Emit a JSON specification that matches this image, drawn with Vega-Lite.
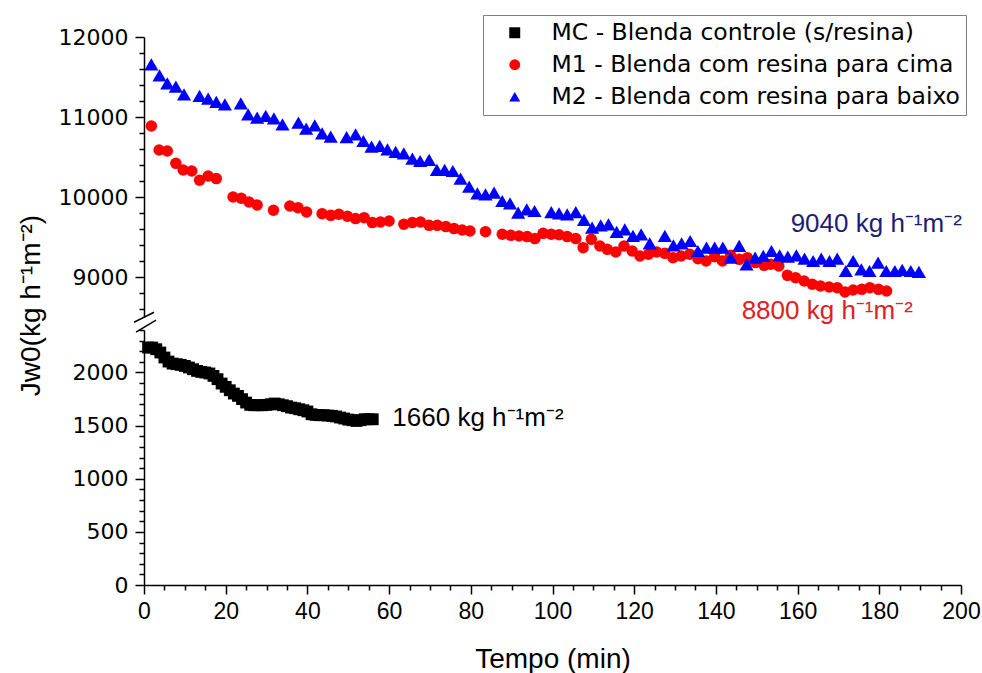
{
  "$schema": "https://vega.github.io/schema/vega-lite/v6.json",
  "background": "white",
  "padding": {"left": 17, "top": 14, "right": 0, "bottom": 0},
  "bounds": "flush",
  "spacing": 13,
  "config": {
    "view": {"stroke": null},
    "font": "DejaVu Sans",
    "axis": {
      "grid": false,
      "domainColor": "#000000",
      "domainWidth": 1.5,
      "tickColor": "#000000",
      "tickWidth": 1.5,
      "labelColor": "#000000",
      "titleColor": "#000000",
      "labelFont": "DejaVu Sans",
      "labelFontSize": 22,
      "labelFlush": false,
      "labelOverlap": false,
      "titleFontWeight": "normal",
      "format": "d"
    },
    "legend": {
      "strokeColor": "#808080",
      "fillColor": "#ffffff",
      "padding": 6,
      "labelFont": "DejaVu Sans",
      "labelFontSize": 23.5,
      "labelColor": "#000000",
      "labelLimit": 0,
      "symbolSize": 120,
      "symbolStrokeWidth": 0,
      "rowPadding": 7
    }
  },
  "resolve": {
    "scale": {"color": "shared", "shape": "shared"},
    "legend": {"color": "shared", "shape": "shared"}
  },
  "datasets": {
    "pts": [
      {"s": "MC", "t": 1, "v": 2235}, {"s": "MC", "t": 2, "v": 2235}, {"s": "MC", "t": 3, "v": 2219}, {"s": "MC", "t": 4, "v": 2188},
      {"s": "MC", "t": 5, "v": 2141}, {"s": "MC", "t": 6, "v": 2103}, {"s": "MC", "t": 7, "v": 2084}, {"s": "MC", "t": 8, "v": 2078},
      {"s": "MC", "t": 9, "v": 2072}, {"s": "MC", "t": 10, "v": 2062}, {"s": "MC", "t": 11, "v": 2047}, {"s": "MC", "t": 12, "v": 2031},
      {"s": "MC", "t": 13, "v": 2015}, {"s": "MC", "t": 14, "v": 2006}, {"s": "MC", "t": 15, "v": 2000}, {"s": "MC", "t": 16, "v": 1991},
      {"s": "MC", "t": 17, "v": 1968}, {"s": "MC", "t": 18, "v": 1937}, {"s": "MC", "t": 19, "v": 1896}, {"s": "MC", "t": 20, "v": 1865},
      {"s": "MC", "t": 21, "v": 1833}, {"s": "MC", "t": 22, "v": 1802}, {"s": "MC", "t": 23, "v": 1780}, {"s": "MC", "t": 24, "v": 1749},
      {"s": "MC", "t": 25, "v": 1717}, {"s": "MC", "t": 26, "v": 1695}, {"s": "MC", "t": 27, "v": 1692}, {"s": "MC", "t": 28, "v": 1692},
      {"s": "MC", "t": 29, "v": 1692}, {"s": "MC", "t": 30, "v": 1695}, {"s": "MC", "t": 31, "v": 1701}, {"s": "MC", "t": 32, "v": 1708},
      {"s": "MC", "t": 33, "v": 1701}, {"s": "MC", "t": 34, "v": 1692}, {"s": "MC", "t": 35, "v": 1683}, {"s": "MC", "t": 36, "v": 1670},
      {"s": "MC", "t": 37, "v": 1664}, {"s": "MC", "t": 38, "v": 1654}, {"s": "MC", "t": 39, "v": 1645}, {"s": "MC", "t": 40, "v": 1633},
      {"s": "MC", "t": 41, "v": 1607}, {"s": "MC", "t": 42, "v": 1601}, {"s": "MC", "t": 43, "v": 1598}, {"s": "MC", "t": 44, "v": 1598},
      {"s": "MC", "t": 45, "v": 1595}, {"s": "MC", "t": 46, "v": 1592}, {"s": "MC", "t": 47, "v": 1586}, {"s": "MC", "t": 48, "v": 1576},
      {"s": "MC", "t": 49, "v": 1567}, {"s": "MC", "t": 50, "v": 1557}, {"s": "MC", "t": 51, "v": 1551}, {"s": "MC", "t": 52, "v": 1544},
      {"s": "MC", "t": 53, "v": 1551}, {"s": "MC", "t": 54, "v": 1560}, {"s": "MC", "t": 55, "v": 1560}, {"s": "MC", "t": 56, "v": 1560},

      {"s": "M1", "t": 1.8, "v": 10888}, {"s": "M1", "t": 3.7, "v": 10588}, {"s": "M1", "t": 5.7, "v": 10575}, {"s": "M1", "t": 7.8, "v": 10421},
      {"s": "M1", "t": 9.6, "v": 10338}, {"s": "M1", "t": 11.7, "v": 10325}, {"s": "M1", "t": 13.6, "v": 10209}, {"s": "M1", "t": 15.7, "v": 10263},
      {"s": "M1", "t": 17.7, "v": 10230}, {"s": "M1", "t": 21.8, "v": 10000}, {"s": "M1", "t": 23.8, "v": 9984}, {"s": "M1", "t": 25.7, "v": 9938},
      {"s": "M1", "t": 27.7, "v": 9900}, {"s": "M1", "t": 31.7, "v": 9834}, {"s": "M1", "t": 35.7, "v": 9888}, {"s": "M1", "t": 37.7, "v": 9867},
      {"s": "M1", "t": 39.8, "v": 9813}, {"s": "M1", "t": 43.6, "v": 9792}, {"s": "M1", "t": 45.7, "v": 9771}, {"s": "M1", "t": 47.7, "v": 9784},
      {"s": "M1", "t": 49.8, "v": 9760}, {"s": "M1", "t": 51.8, "v": 9730}, {"s": "M1", "t": 53.9, "v": 9742}, {"s": "M1", "t": 55.9, "v": 9680},
      {"s": "M1", "t": 57.9, "v": 9688}, {"s": "M1", "t": 60, "v": 9700}, {"s": "M1", "t": 63.6, "v": 9659}, {"s": "M1", "t": 65.7, "v": 9680},
      {"s": "M1", "t": 67.7, "v": 9688}, {"s": "M1", "t": 69.8, "v": 9646}, {"s": "M1", "t": 71.8, "v": 9646}, {"s": "M1", "t": 73.9, "v": 9630},
      {"s": "M1", "t": 75.9, "v": 9605}, {"s": "M1", "t": 77.9, "v": 9588}, {"s": "M1", "t": 79.8, "v": 9575}, {"s": "M1", "t": 83.6, "v": 9567},
      {"s": "M1", "t": 87.7, "v": 9534}, {"s": "M1", "t": 89.8, "v": 9521}, {"s": "M1", "t": 91.8, "v": 9513}, {"s": "M1", "t": 93.8, "v": 9505},
      {"s": "M1", "t": 95.7, "v": 9480}, {"s": "M1", "t": 97.7, "v": 9546}, {"s": "M1", "t": 99.7, "v": 9534}, {"s": "M1", "t": 101.6, "v": 9528},
      {"s": "M1", "t": 103.6, "v": 9505}, {"s": "M1", "t": 105.7, "v": 9480}, {"s": "M1", "t": 107.5, "v": 9367}, {"s": "M1", "t": 109.5, "v": 9471},
      {"s": "M1", "t": 111.6, "v": 9388}, {"s": "M1", "t": 113.4, "v": 9346}, {"s": "M1", "t": 115.5, "v": 9313}, {"s": "M1", "t": 117.5, "v": 9388},
      {"s": "M1", "t": 119.5, "v": 9325}, {"s": "M1", "t": 121.4, "v": 9263}, {"s": "M1", "t": 123.5, "v": 9284}, {"s": "M1", "t": 125.5, "v": 9313},
      {"s": "M1", "t": 127.5, "v": 9296}, {"s": "M1", "t": 129.5, "v": 9242}, {"s": "M1", "t": 131.5, "v": 9263}, {"s": "M1", "t": 133.6, "v": 9284},
      {"s": "M1", "t": 135.6, "v": 9229}, {"s": "M1", "t": 137.6, "v": 9200}, {"s": "M1", "t": 139.7, "v": 9254}, {"s": "M1", "t": 141.6, "v": 9200},
      {"s": "M1", "t": 143.6, "v": 9271}, {"s": "M1", "t": 145.7, "v": 9221}, {"s": "M1", "t": 147.7, "v": 9242}, {"s": "M1", "t": 149.7, "v": 9180},
      {"s": "M1", "t": 151.8, "v": 9146}, {"s": "M1", "t": 153.4, "v": 9159}, {"s": "M1", "t": 155.4, "v": 9138}, {"s": "M1", "t": 157.5, "v": 9021},
      {"s": "M1", "t": 159.5, "v": 8992}, {"s": "M1", "t": 161.6, "v": 8950}, {"s": "M1", "t": 163.6, "v": 8909}, {"s": "M1", "t": 165.6, "v": 8888},
      {"s": "M1", "t": 167.7, "v": 8875}, {"s": "M1", "t": 169.7, "v": 8867}, {"s": "M1", "t": 171.6, "v": 8813}, {"s": "M1", "t": 173.6, "v": 8838},
      {"s": "M1", "t": 175.7, "v": 8846}, {"s": "M1", "t": 177.7, "v": 8867}, {"s": "M1", "t": 179.8, "v": 8846}, {"s": "M1", "t": 181.8, "v": 8825},

      {"s": "M2", "t": 1.8, "v": 11659}, {"s": "M2", "t": 3.8, "v": 11521}, {"s": "M2", "t": 5.7, "v": 11421}, {"s": "M2", "t": 7.8, "v": 11380},
      {"s": "M2", "t": 9.8, "v": 11284}, {"s": "M2", "t": 13.6, "v": 11263}, {"s": "M2", "t": 15.7, "v": 11230}, {"s": "M2", "t": 17.7, "v": 11188},
      {"s": "M2", "t": 19.8, "v": 11159}, {"s": "M2", "t": 23.7, "v": 11171}, {"s": "M2", "t": 25.5, "v": 11034}, {"s": "M2", "t": 27.7, "v": 10992},
      {"s": "M2", "t": 29.8, "v": 11013}, {"s": "M2", "t": 31.8, "v": 10984}, {"s": "M2", "t": 33.9, "v": 10909}, {"s": "M2", "t": 37.8, "v": 10930},
      {"s": "M2", "t": 39.7, "v": 10855}, {"s": "M2", "t": 41.8, "v": 10896}, {"s": "M2", "t": 43.6, "v": 10796}, {"s": "M2", "t": 45.7, "v": 10755},
      {"s": "M2", "t": 49.6, "v": 10748}, {"s": "M2", "t": 51.8, "v": 10784}, {"s": "M2", "t": 53.7, "v": 10700}, {"s": "M2", "t": 55.7, "v": 10630},
      {"s": "M2", "t": 57.7, "v": 10638}, {"s": "M2", "t": 59.6, "v": 10596}, {"s": "M2", "t": 61.6, "v": 10563}, {"s": "M2", "t": 63.6, "v": 10546},
      {"s": "M2", "t": 65.7, "v": 10480}, {"s": "M2", "t": 67.6, "v": 10450}, {"s": "M2", "t": 69.8, "v": 10463}, {"s": "M2", "t": 71.7, "v": 10338},
      {"s": "M2", "t": 73.6, "v": 10338}, {"s": "M2", "t": 75.6, "v": 10325}, {"s": "M2", "t": 77.5, "v": 10230}, {"s": "M2", "t": 79.6, "v": 10130},
      {"s": "M2", "t": 81.6, "v": 10046}, {"s": "M2", "t": 83.6, "v": 10034}, {"s": "M2", "t": 85.7, "v": 10055}, {"s": "M2", "t": 87.7, "v": 9950},
      {"s": "M2", "t": 89.6, "v": 9921}, {"s": "M2", "t": 91.6, "v": 9805}, {"s": "M2", "t": 93.7, "v": 9846}, {"s": "M2", "t": 95.6, "v": 9825},
      {"s": "M2", "t": 99.7, "v": 9812}, {"s": "M2", "t": 101.6, "v": 9795}, {"s": "M2", "t": 103.6, "v": 9784}, {"s": "M2", "t": 105.7, "v": 9812},
      {"s": "M2", "t": 107.7, "v": 9713}, {"s": "M2", "t": 109.7, "v": 9617}, {"s": "M2", "t": 111.8, "v": 9646}, {"s": "M2", "t": 113.7, "v": 9659},
      {"s": "M2", "t": 115.7, "v": 9563}, {"s": "M2", "t": 117.7, "v": 9596}, {"s": "M2", "t": 119.7, "v": 9513}, {"s": "M2", "t": 121.7, "v": 9534},
      {"s": "M2", "t": 123.8, "v": 9421}, {"s": "M2", "t": 127.5, "v": 9513}, {"s": "M2", "t": 129.6, "v": 9396}, {"s": "M2", "t": 131.6, "v": 9421},
      {"s": "M2", "t": 133.7, "v": 9450}, {"s": "M2", "t": 135.6, "v": 9325}, {"s": "M2", "t": 137.7, "v": 9367}, {"s": "M2", "t": 139.7, "v": 9367},
      {"s": "M2", "t": 141.7, "v": 9367}, {"s": "M2", "t": 143.6, "v": 9242}, {"s": "M2", "t": 145.7, "v": 9388}, {"s": "M2", "t": 147.5, "v": 9159},
      {"s": "M2", "t": 149.6, "v": 9242}, {"s": "M2", "t": 151.6, "v": 9263}, {"s": "M2", "t": 153.6, "v": 9325}, {"s": "M2", "t": 155.6, "v": 9271},
      {"s": "M2", "t": 157.6, "v": 9254}, {"s": "M2", "t": 159.7, "v": 9271}, {"s": "M2", "t": 161.7, "v": 9229}, {"s": "M2", "t": 163.8, "v": 9200},
      {"s": "M2", "t": 165.8, "v": 9229}, {"s": "M2", "t": 167.8, "v": 9200}, {"s": "M2", "t": 169.7, "v": 9229}, {"s": "M2", "t": 171.8, "v": 9075},
      {"s": "M2", "t": 173.6, "v": 9200}, {"s": "M2", "t": 175.6, "v": 9096}, {"s": "M2", "t": 177.6, "v": 9075}, {"s": "M2", "t": 179.7, "v": 9180},
      {"s": "M2", "t": 181.7, "v": 9075}, {"s": "M2", "t": 183.8, "v": 9075}, {"s": "M2", "t": 185.6, "v": 9088}, {"s": "M2", "t": 187.7, "v": 9075},
      {"s": "M2", "t": 189.7, "v": 9063}
    ]
  },
  "vconcat": [
    {
      "width": 817,
      "height": 280,
      "layer": [
        {
          "data": {"name": "pts"},
          "transform": [{"filter": "datum.s === 'M1'"}],
          "mark": {"type": "point", "filled": true, "size": 132, "opacity": 1},
          "encoding": {
            "x": {"field": "t", "type": "quantitative", "scale": {"domain": [0, 200], "nice": false}, "axis": null},
            "y": {
              "field": "v", "type": "quantitative",
              "scale": {"domain": [8500, 12000], "nice": false, "zero": false},
              "axis": {
                "orient": "left",
                "values": [9000, 10000, 11000, 12000],
                "tickSize": 9,
                "labelPadding": 7,
                "title": "Jw0(kg h⁻¹m⁻²)",
                "titleFont": "Liberation Sans",
                "titleFontSize": 28,
                "titleAngle": -90,
                "titleAlign": "center",
                "titleBaseline": "middle",
                "titleX": -113,
                "titleY": 268
              }
            },
            "color": {
              "field": "s", "type": "nominal",
              "scale": {"domain": ["MC", "M1", "M2"], "range": ["#000000", "#ff0000", "#0000ff"]},
              "legend": {
                "title": null, "orient": "none", "legendX": 339, "legendY": -22,
                "symbolOffset": 14, "labelOffset": 25,
                "labelExpr": "datum.label === 'MC' ? 'MC - Blenda controle (s/resina)' : datum.label === 'M1' ? 'M1 - Blenda com resina para cima' : 'M2 - Blenda com resina para baixo'"
              }
            },
            "shape": {
              "field": "s", "type": "nominal",
              "scale": {"domain": ["MC", "M1", "M2"], "range": ["square", "circle", "triangle-up"]},
              "legend": {
                "title": null, "orient": "none", "legendX": 339, "legendY": -22,
                "symbolOffset": 14, "labelOffset": 25,
                "labelExpr": "datum.label === 'MC' ? 'MC - Blenda controle (s/resina)' : datum.label === 'M1' ? 'M1 - Blenda com resina para cima' : 'M2 - Blenda com resina para baixo'"
              }
            }
          }
        },
        {
          "data": {"name": "pts"},
          "transform": [{"filter": "datum.s === 'M2'"}],
          "mark": {"type": "point", "filled": true, "size": 200, "opacity": 1},
          "encoding": {
            "x": {"field": "t", "type": "quantitative", "axis": null},
            "y": {"field": "v", "type": "quantitative", "axis": null},
            "color": {"field": "s", "type": "nominal"},
            "shape": {"field": "s", "type": "nominal"}
          }
        },
        {
          "data": {"name": "pts"},
          "transform": [{"filter": "datum.s === 'M2'"}],
          "mark": {"type": "point", "opacity": 0},
          "encoding": {
            "x": {"field": "t", "type": "quantitative", "axis": null},
            "y": {
              "field": "v", "type": "quantitative",
              "axis": {
                "orient": "left", "title": null, "labels": false, "domain": false, "tickSize": 5,
                "values": [8600, 8800, 9200, 9400, 9600, 9800, 10200, 10400, 10600, 10800, 11200, 11400, 11600, 11800]
              }
            }
          }
        },
        {
          "data": {"values": [{}]},
          "mark": {"type": "rule", "color": "#000000", "strokeWidth": 1.5},
          "encoding": {
            "x": {"datum": -2.45, "type": "quantitative", "axis": null},
            "x2": {"datum": 2.45},
            "y": {"datum": 8434, "type": "quantitative", "axis": null},
            "y2": {"datum": 8559}
          }
        },
        {
          "data": {"values": [{}]},
          "mark": {"type": "text", "font": "Liberation Sans", "fontSize": 26, "align": "left", "baseline": "middle", "color": "#1c1c78"},
          "encoding": {
            "x": {"datum": 158.3, "type": "quantitative", "axis": null},
            "y": {"datum": 9659, "type": "quantitative", "axis": null},
            "text": {"value": "9040 kg h⁻¹m⁻²"}
          }
        },
        {
          "data": {"values": [{}]},
          "mark": {"type": "text", "font": "Liberation Sans", "fontSize": 26, "align": "left", "baseline": "middle", "color": "#e0201e"},
          "encoding": {
            "x": {"datum": 146.3, "type": "quantitative", "axis": null},
            "y": {"datum": 8570, "type": "quantitative", "axis": null},
            "text": {"value": "8800 kg h⁻¹m⁻²"}
          }
        }
      ],
      "resolve": {"axis": {"y": "independent", "x": "independent"}}
    },
    {
      "width": 817,
      "height": 255,
      "layer": [
        {
          "data": {"name": "pts"},
          "transform": [{"filter": "datum.s === 'MC'"}],
          "mark": {"type": "point", "filled": true, "size": 140, "opacity": 1},
          "encoding": {
            "x": {
              "field": "t", "type": "quantitative",
              "scale": {"domain": [0, 200], "nice": false},
              "axis": {
                "orient": "bottom",
                "values": [0, 20, 40, 60, 80, 100, 120, 140, 160, 180, 200],
                "tickSize": 9,
                "labelPadding": 6,
                "labelFont": "Liberation Sans",
                "labelFontSize": 23,
                "title": "Tempo (min)",
                "titleFont": "Liberation Sans",
                "titleFontSize": 28,
                "titlePadding": 22
              }
            },
            "y": {
              "field": "v", "type": "quantitative",
              "scale": {"domain": [0, 2400], "nice": false},
              "axis": {
                "orient": "left",
                "values": [0, 500, 1000, 1500, 2000],
                "tickSize": 9,
                "labelPadding": 7,
                "title": null
              }
            },
            "color": {"field": "s", "type": "nominal"},
            "shape": {"field": "s", "type": "nominal"}
          }
        },
        {
          "data": {"name": "pts"},
          "transform": [{"filter": "datum.s === 'MC'"}],
          "mark": {"type": "point", "opacity": 0},
          "encoding": {
            "x": {
              "field": "t", "type": "quantitative",
              "axis": {
                "orient": "bottom", "title": null, "labels": false, "domain": false, "tickSize": 5,
                "values": [5, 10, 15, 25, 30, 35, 45, 50, 55, 65, 70, 75, 85, 90, 95, 105, 110, 115, 125, 130, 135, 145, 150, 155, 165, 170, 175, 185, 190, 195]
              }
            },
            "y": {
              "field": "v", "type": "quantitative",
              "axis": {
                "orient": "left", "title": null, "labels": false, "domain": false, "tickSize": 5,
                "values": [100, 200, 300, 400, 600, 700, 800, 900, 1100, 1200, 1300, 1400, 1600, 1700, 1800, 1900, 2100, 2200, 2300, 2400]
              }
            }
          }
        },
        {
          "data": {"values": [{}]},
          "mark": {"type": "rule", "color": "#000000", "strokeWidth": 1.5},
          "encoding": {
            "x": {"datum": -1.96, "type": "quantitative", "axis": null},
            "x2": {"datum": 2.94},
            "y": {"datum": 2379, "type": "quantitative", "axis": null},
            "y2": {"datum": 2492}
          }
        },
        {
          "data": {"values": [{}]},
          "mark": {"type": "text", "font": "Liberation Sans", "fontSize": 26, "align": "left", "baseline": "middle", "color": "#000000"},
          "encoding": {
            "x": {"datum": 60.8, "type": "quantitative", "axis": null},
            "y": {"datum": 1570, "type": "quantitative", "axis": null},
            "text": {"value": "1660 kg h⁻¹m⁻²"}
          }
        }
      ],
      "resolve": {"axis": {"y": "independent", "x": "independent"}}
    }
  ]
}
